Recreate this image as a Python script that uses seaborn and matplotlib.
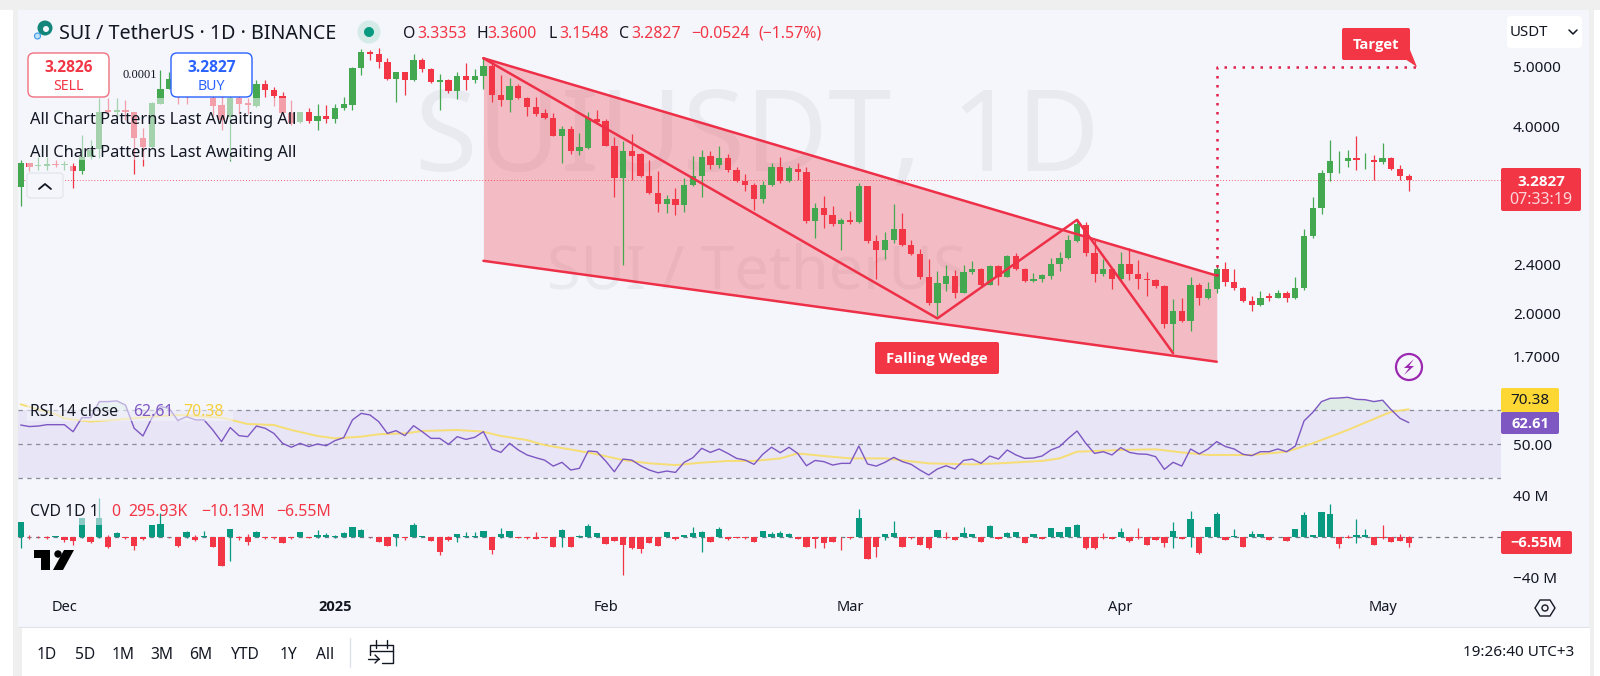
import matplotlib
matplotlib.use('Agg')
import matplotlib.pyplot as plt
import seaborn as sns
from matplotlib.patches import Rectangle, FancyBboxPatch, Polygon, Circle
from matplotlib.ticker import NullLocator

# daily candles
opens = [3.20,3.50,3.46,3.46,3.485,3.475,3.46,3.39,3.58,3.68,
         4.26,4.22,4.26,4.23,3.83,3.71,4.36,4.61,4.72,4.60,
         4.55,4.70,4.45,4.34,4.15,4.45,4.37,4.32,4.68,4.59,
         4.48,4.21,4.07,4.22,4.09,4.17,4.11,4.285,4.34,4.97,
         5.29,5.24,5.09,4.78,4.90,4.75,5.13,4.96,4.73,4.75,
         4.57,4.83,4.75,4.83,5.01,4.50,4.42,4.65,4.45,4.30,
         4.21,4.13,3.87,3.97,3.65,3.70,4.12,4.08,3.73,3.30,
         3.65,3.61,3.33,3.13,3.00,3.06,2.99,3.22,3.33,3.59,
         3.47,3.56,3.41,3.27,3.22,3.06,3.22,3.45,3.27,3.42,
         3.38,2.82,2.96,2.88,2.79,2.83,2.81,3.21,2.62,2.53,
         2.63,2.74,2.58,2.49,2.29,2.08,2.23,2.30,2.16,2.33,
         2.355,2.225,2.385,2.29,2.475,2.36,2.255,2.27,2.30,2.40,
         2.46,2.62,2.78,2.50,2.31,2.355,2.27,2.405,2.31,2.27,
         2.26,2.21,1.92,2.02,1.94,2.22,2.115,2.185,2.355,2.245,
         2.195,2.09,2.06,2.13,2.12,2.16,2.115,2.20,2.66,2.96,
         3.37,3.52,3.52,3.56,3.53,3.53,3.51,3.56,3.42,3.3353]
highs = [3.54,3.50,3.58,3.58,3.53,3.52,3.50,3.88,3.81,4.45,
         4.45,4.45,4.42,4.23,3.98,4.39,4.94,4.90,4.85,4.80,
         4.80,4.80,4.60,4.50,4.58,4.55,4.45,4.76,4.76,4.64,
         4.55,4.42,4.23,4.29,4.36,4.34,4.36,4.47,5.00,5.34,
         5.32,5.35,5.16,4.91,4.91,5.25,5.16,4.97,4.87,4.77,
         4.90,5.06,4.95,5.16,5.06,4.85,4.79,4.69,4.47,4.47,
         4.27,4.21,4.01,4.01,3.91,4.22,4.25,4.11,3.85,3.80,
         3.89,3.63,3.53,3.39,3.10,3.19,3.31,3.59,3.67,3.66,
         3.72,3.61,3.45,3.36,3.25,3.27,3.49,3.57,3.46,3.49,
         3.45,3.01,3.09,2.98,2.85,2.92,3.25,3.21,2.67,2.70,
         3.00,2.90,2.63,2.535,2.45,2.34,2.39,2.35,2.39,2.43,
         2.37,2.39,2.39,2.48,2.50,2.365,2.32,2.31,2.455,2.51,
         2.67,2.83,2.81,2.64,2.45,2.37,2.515,2.55,2.44,2.33,
         2.27,2.22,2.105,2.115,2.29,2.24,2.25,2.395,2.42,2.355,
         2.205,2.135,2.17,2.16,2.18,2.17,2.29,2.74,3.08,3.41,
         3.81,3.65,3.67,3.86,3.63,3.60,3.77,3.575,3.47,3.36]
lows = [2.98,3.39,3.40,3.40,3.44,3.41,3.19,3.35,3.55,3.56,
        4.20,4.11,4.10,3.36,3.46,3.69,4.36,4.60,4.35,4.36,
        4.50,4.50,4.17,3.955,3.52,4.20,4.20,4.31,4.47,4.32,
        4.17,4.02,4.05,4.05,3.955,4.05,4.05,4.26,4.26,4.85,
        5.13,4.97,4.76,4.38,4.50,4.74,4.91,4.70,4.26,4.53,
        4.44,4.58,4.70,4.61,4.38,4.32,4.23,4.44,4.17,4.17,
        4.11,3.87,3.50,3.62,3.60,3.68,4.05,3.72,3.08,2.39,
        3.285,3.32,3.12,2.91,2.90,2.88,2.91,3.21,3.08,3.42,
        3.43,3.38,3.26,3.15,2.93,3.01,3.21,3.24,3.26,3.285,
        2.80,2.65,2.75,2.77,2.53,2.79,2.80,2.60,2.27,2.45,
        2.60,2.57,2.48,2.27,2.06,1.98,2.175,2.12,2.155,2.31,
        2.215,2.22,2.225,2.285,2.35,2.25,2.245,2.25,2.27,2.34,
        2.45,2.61,2.47,2.25,2.295,2.19,2.255,2.26,2.19,2.13,
        2.20,1.89,1.74,1.935,1.87,2.06,2.105,2.16,2.215,2.18,
        2.085,2.02,2.055,2.09,2.115,2.085,2.11,2.18,2.65,2.89,
        3.27,3.37,3.44,3.40,3.42,3.285,3.48,3.41,3.285,3.1548]
closes = [3.50,3.44,3.47,3.48,3.475,3.485,3.39,3.58,3.67,4.23,
          4.23,4.26,4.23,3.83,3.71,4.37,4.61,4.77,4.60,4.55,
          4.70,4.60,4.32,4.10,4.45,4.36,4.33,4.68,4.585,4.48,
          4.21,4.05,4.22,4.09,4.17,4.11,4.285,4.35,4.98,5.28,
          5.25,5.09,4.78,4.90,4.75,5.13,4.96,4.73,4.75,4.57,
          4.83,4.75,4.83,5.01,4.50,4.42,4.65,4.45,4.30,4.19,
          4.13,3.87,3.97,3.65,3.71,4.13,4.07,3.73,3.30,3.65,
          3.59,3.33,3.13,3.00,3.06,2.99,3.22,3.33,3.58,3.47,
          3.56,3.41,3.27,3.22,3.06,3.22,3.45,3.27,3.43,3.38,
          2.82,2.96,2.88,2.79,2.83,2.81,3.21,2.62,2.53,2.63,
          2.74,2.58,2.49,2.29,2.08,2.235,2.30,2.16,2.33,2.355,
          2.225,2.385,2.29,2.475,2.355,2.255,2.27,2.305,2.40,2.46,
          2.625,2.79,2.50,2.31,2.355,2.27,2.405,2.31,2.27,2.265,
          2.21,1.92,2.02,1.94,2.22,2.115,2.185,2.355,2.245,2.20,
          2.09,2.06,2.12,2.12,2.16,2.115,2.20,2.66,2.96,3.37,
          3.52,3.525,3.56,3.53,3.535,3.51,3.56,3.42,3.33,3.2827]

# RSI line, one value per bar
rsi = [61.2,60.3,60.6,61.4,61.4,61.4,57.3,65.5,65.5,74.9,
       74.9,75.3,72.9,59.3,54.8,65.1,72.0,71.0,63.8,66.1,
       64.2,64.2,58.3,51.5,59.7,55.0,54.4,60.6,59.3,56.3,
       50.5,48.2,50.5,48.6,50.1,49.1,52.1,53.8,64.2,68.0,
       67.1,63.2,56.3,57.9,55.0,60.8,57.3,53.4,53.4,49.9,
       54.4,52.8,54.0,57.3,47.2,45.2,50.5,46.6,43.7,42.1,
       40.7,37.2,39.4,34.9,35.9,46.0,45.6,40.2,33.9,41.3,
       40.7,37.4,34.9,33.3,34.3,33.5,39.4,42.1,47.6,45.2,
       47.2,44.6,41.7,40.7,38.2,44.1,48.2,45.0,48.2,44.6,
       37.4,40.5,39.8,37.8,38.8,38.8,48.9,38.4,37.2,39.4,
       42.3,39.8,38.2,34.9,32.0,35.5,37.4,35.5,40.5,41.3,
       38.8,43.1,41.3,46.6,43.7,41.7,41.9,43.1,46.6,48.6,
       53.4,57.7,50.5,44.6,45.6,43.7,48.0,45.2,44.3,44.1,
       42.7,35.3,39.4,37.2,47.2,44.3,47.2,51.5,48.6,47.2,
       44.1,43.3,45.6,45.6,47.2,45.6,48.9,63.6,68.6,74.9,
       76.8,77.0,77.4,76.2,76.0,74.9,75.7,70.0,65.1,62.61]
# RSI moving average, read at the bars where it bends
ma_bars = [0,4,5,8,12,15,18,21,23,26,29,31,34,36,39,41,44,46,50,53,55,58,60,64,66,69,72,
           75,78,81,84,87,89,92,95,99,104,109,112,117,119,121,126,130,133,136,141,145,148,152,157,159]
ma_vals = [73.3,67.5,65.1,63.2,64.7,66.1,67.1,66.1,65.5,61.8,61.2,58.3,54.8,53.4,54.4,55.8,56.3,57.7,
           58.3,57.3,54.8,52.4,49.5,46.0,44.1,40.7,38.8,37.8,39.2,40.2,40.2,41.7,44.6,43.1,41.7,41.7,
           38.8,38.2,38.8,40.2,41.7,45.6,46.6,47.0,45.2,43.7,43.7,45.6,50.5,58.3,69.0,70.38]

# cumulative volume delta in millions, each bar starts at 0
cvd_close = [14.1,-0.6,-0.3,-1.6,0.6,-2.9,-3.9,18,-4.9,18,
             -10.5,3.3,-1.6,-9.2,-2.6,11.4,12.4,-0.6,-8.8,4.9,
             -3.3,1,-9.8,-28.8,7.5,-1.6,-4.9,4.9,-1.6,-1.6,
             -5.9,-1.6,4.3,-1,2,1.3,1,3.9,9.2,6.5,
             -0.6,-4.9,-8.8,2.9,-1.6,11.4,0.6,-3.9,-14.7,-2.9,
             2.6,0.6,1,5.6,-12.9,2.3,5.6,-1,-1.6,-2.3,
             -1,-9.8,6.5,-9.8,1,10.5,3.9,-6.9,-3.9,-8.2,
             -11.4,-12.4,-5.9,-9.2,4.9,-2.6,1.6,3.3,4.3,-4.9,
             7.5,-2.6,-1,-1.6,-4.9,5.6,2.9,3.3,2.9,-2,
             -9.8,-2.6,-5.9,-4.9,-0.6,-1.6,18,-22.2,-10.5,2.6,
             3.9,-9.8,-1.6,-8.2,-11.4,6.5,-1,-3.3,3.9,2.3,
             -4.9,10.8,-2,3.9,4.9,-5.9,2.9,-2,8.8,4.9,
             9.2,11.4,-11.4,-11.4,-1.6,-2,4.9,-4.3,-1.6,-7.8,
             -3.3,-5.9,5.6,-2,17,-15.7,9.2,21.9,-3.3,0.6,
             -9.8,2.9,2.9,-3.3,-0.3,-3.9,7.5,21.3,1.3,23.9,
             22.2,-7.2,-1,2,1.3,-8.2,-1.6,-4.9,-3.9,-6.55]
cvd_high = [14.1,1.6,0.5,1,1,0,0,18,0,37.6,
            1.6,4.9,0,0,0,11.4,22.9,0,0,5.9,
            1.6,5.6,0,0,7.5,1,2.3,5.6,0,0,
            0,0,4.3,0,6.5,3.9,1.5,4.5,9.5,7.5,
            0,0,0,3,0,13.7,1,0,0,1,
            3,4.9,4.9,6,0,8.2,6,0,0,4.9,
            0,0,7.5,0,1.5,12.4,4,0,0,0,
            0,0,0,0,5,0,2,9.8,6,0,
            9.8,0,0,0,0,6,5,6,4,0,
            0,0,0,0,0,0,27,0,0,3,
            15.4,0,0,0,0,7,4.9,0,9.8,3,
            0,11,0,4.5,5,0,3,0,9,5,
            9.5,12.4,0,0,3.3,0,8.8,0,8.8,0,
            0,0,14.7,0,25,0,9.5,24.5,0,7.2,
            0,5.6,3,0,0,0,8,24.5,1.5,24,
            31.7,0,2,17.3,7.5,0,11.4,0,2.6,0.296]
cvd_low = [-10.8,-2.3,-1,-2.6,-0.5,-4.9,-8.2,-1,-6.5,-1,
           -11.4,0,-2.3,-13,-3.6,0,0,-1,-9.8,-1,
           -3.9,0,-9.8,-28.8,-23.9,-3.3,-8.2,0,-2,-2,
           -6,-2,0,-1,-1,-0.5,-1,0,0,0,
           -1,-5,-9,-8.8,-3,0,-0.5,-4,-18,-3.9,
           -4.9,-0.5,-0.5,0,-17,-1.6,0,-1,-2,-2.5,
           -1,-10,-9.8,-10,-0.5,0,0,-7,-4,-37.6,
           -12,-16.4,-6,-9.5,0,-3,0,0,-14.7,-5,
           0,-3,-1.5,-2,-5,0,0,0,0,-2.5,
           -10,-10.8,-10.8,-5,-13,-2,0,-22.2,-19.6,-3.3,
           0,-10,-2,-8.5,-12.4,0,-2.3,-3.5,0,0,
           -5,0,-2.5,0,0,-6.5,0,-2,0,0,
           0,0,-12,-12,-2,-2.5,0,-5,-2,-8,
           -3.5,-10.5,-11.4,-2.5,-9.8,-17.3,0,0,-3.5,0,
           -10,0,0,-3.5,-0.5,-4,0,0,0,0,
           0,-11.4,-1.5,-5.9,0,-8.5,-2,-5,-4,-10.13]

# drawn pattern: bar index and price of the corners
wedge_bars = [53, 137]
wedge_top = [5.16, 2.30]
wedge_bottom = [2.43, 1.67]
zigzag_bars = [53, 105, 121, 132]
zigzag_prices = [5.16, 1.962, 2.83, 1.724]
target_bars = [137, 137, 160]
target_prices = [2.30, 5.0, 5.0]

price_ticks = [5.0, 4.0, 2.4, 2.0, 1.7]
month_bars = [5, 36, 67, 95, 126, 156]
month_labels = ['Dec', '2025', 'Feb', 'Mar', 'Apr', 'May']
range_buttons = ['1D', '5D', '1M', '3M', '6M', 'YTD', '1Y', 'All']

GREEN = '#43a84f'
RED = '#f23645'
TEAL = '#089981'
PANEL = '#f4f6fc'
INK = '#131722'
BOLD = ['Open Sans', 'DejaVu Sans']
W, H = 1600, 676

sns.set_theme(style='white')
plt.rcParams['font.family'] = ['Noto Sans', 'DejaVu Sans']

fig = plt.figure(figsize=(16, 6.76), dpi=100, facecolor='#efefef')


def pane(top, bottom, z):
    a = fig.add_axes([18 / W, 1 - bottom / H, 1483 / W, (bottom - top) / H], zorder=z)
    a.patch.set_alpha(0)
    a.set_xlim(-0.31, 169.56)
    a.yaxis.tick_right()
    a.tick_params(axis='y', length=0, pad=8.6, labelsize=11, labelcolor=INK)
    a.tick_params(axis='x', length=0, labelbottom=False)
    sns.despine(ax=a, left=True, bottom=True, right=True, top=True)
    return a


# background layer in pixels
bg = fig.add_axes([0, 0, 1, 1], zorder=0)
bg.set_xlim(0, W)
bg.set_ylim(H, 0)
bg.axis('off')
bg.add_patch(Rectangle((0, 10), 13, H, color='white', lw=0))
bg.add_patch(Rectangle((1594, 10), 6, H, color='white', lw=0))
bg.add_patch(Rectangle((18, 10), 1571, 617, color=PANEL, lw=0))
bg.text(757, 142, 'SUIUSDT, 1D', fontsize=82, color='#e8eaf0', ha='center', va='center')
bg.text(757, 273, 'SUI / TetherUS', fontsize=44, color='#e8eaf0', ha='center', va='center')

# price pane
ax = pane(10, 386.7, 1)
ax.set_yscale('log')
ax.set_ylim(1.522, 6.173)
ax.yaxis.set_minor_locator(NullLocator())
ax.set_yticks(price_ticks)
ax.set_yticklabels(['%.4f' % p for p in price_ticks])
ax.fill_between(wedge_bars, wedge_bottom, wedge_top, color=RED, alpha=0.3, lw=0, zorder=1)
bars = list(range(len(closes)))
colors = [GREEN if c >= o else RED for o, c in zip(opens, closes)]
ax.vlines(bars, lows, highs, colors=colors, lw=0.9, zorder=2)
ax.bar(bars, [abs(c - o) for o, c in zip(opens, closes)], bottom=[min(o, c) for o, c in zip(opens, closes)],
       width=0.72, color=colors, lw=0, zorder=2)
ax.axhline(closes[-1], color=RED, lw=0.7, ls=(0, (1, 2)), alpha=0.8, zorder=1.5)
for tops in (wedge_top, wedge_bottom):
    sns.lineplot(x=wedge_bars, y=tops, ax=ax, color='#ee2f48', lw=1.8, zorder=3)
sns.lineplot(x=zigzag_bars, y=zigzag_prices, ax=ax, color='#ee2f48', lw=1.8, zorder=3, sort=False)
ax.plot(target_bars, target_prices, color='#e0204a', lw=1.8, ls=(0, (1, 2.6)), zorder=3)
ax.set_xlabel('')
ax.set_ylabel('')

# RSI pane
ax_rsi = pane(386.7, 487.3, 1)
ax_rsi.set_ylim(24.8, 83.6)
ax_rsi.set_yticks([50])
ax_rsi.set_yticklabels(['50.00'])
ax_rsi.axhspan(30, 70, color='#7e57c2', alpha=0.1, lw=0)
for level in (70, 50, 30):
    ax_rsi.axhline(level, color='#8a8d99', lw=0.9, ls=(0, (3.5, 3.5)))
ax_rsi.fill_between(bars, 70, rsi, where=[v >= 70 for v in rsi], color='#4caf50', alpha=0.13, lw=0, interpolate=True)
sns.lineplot(x=ma_bars, y=ma_vals, ax=ax_rsi, color='#f6dd74', lw=1.4)
sns.lineplot(x=bars, y=rsi, ax=ax_rsi, color='#7e57c2', lw=1.0)
ax_rsi.set_xlabel('')
ax_rsi.set_ylabel('')

# CVD pane, also carries the time axis
ax_cvd = pane(487.3, 627, 1)
ax_cvd.set_ylim(-88.4, 48.4)
ax_cvd.set_yticks([40, -40])
ax_cvd.set_yticklabels(['40 M', '\u221240 M'])
ax_cvd.axhline(0, color='#787b86', lw=0.9, ls=(0, (3.5, 3.5)))
cvd_colors = [TEAL if c >= 0 else RED for c in cvd_close]
ax_cvd.vlines(bars, cvd_low, cvd_high, colors=cvd_colors, lw=0.9, zorder=2)
ax_cvd.bar(bars, cvd_close, width=0.72, color=cvd_colors, lw=0, zorder=2)
ax_cvd.set_xticks(month_bars)
ax_cvd.set_xticklabels(month_labels)
ax_cvd.tick_params(axis='x', labelbottom=True, pad=-19.5, labelsize=10.5, labelcolor=INK)
year_tick = ax_cvd.get_xticklabels()[1]
year_tick.set_family(BOLD)
year_tick.set_fontweight('bold')

# interface layer in pixels
ui = fig.add_axes([0, 0, 1, 1], zorder=5)
ui.patch.set_alpha(0)
ui.set_xlim(0, W)
ui.set_ylim(H, 0)
ui.axis('off')

# translucent legend backgrounds over the candles
for x0, y0, w, h in [(27, 98, 276, 62), (27, 160, 46, 13), (27, 398, 206, 23), (27, 498, 110, 27)]:
    ui.add_patch(Rectangle((x0, y0), w, h, color=PANEL, alpha=0.55, lw=0))


def label(x, y, s, color=INK, size=11, ha='left', weight='normal', **kw):
    if weight == 'bold':
        kw['family'] = BOLD
    ui.text(x, y + 1, s, color=color, fontsize=size, ha=ha, va='center', fontweight=weight, **kw)


def box(x0, y0, x1, y1, face, edge='none', r=3, lw=1.0):
    ui.add_patch(FancyBboxPatch((x0 + r, y0 + r), x1 - x0 - 2 * r, y1 - y0 - 2 * r,
                                boxstyle='round,pad=%d,rounding_size=%d' % (r, r),
                                fc=face, ec=edge, lw=lw))


# header
ui.add_patch(Circle((45, 28), 7.5, color='#14857a', lw=0))
ui.add_patch(Circle((46, 29), 3, color=PANEL, lw=0))
ui.add_patch(Circle((37.5, 36), 3, fc='#bfe0f7', ec='#3d9be9', lw=0.8))
label(59, 33, 'SUI / TetherUS \u00b7 1D \u00b7 BINANCE', size=14.2)
ui.add_patch(Circle((369, 32), 11.5, color='#d5ebe8', lw=0))
ui.add_patch(Circle((369, 32), 5, color='#089981', lw=0))
for x, s, c in [(403, 'O', INK), (417, '3.3353', RED), (476, 'H', INK), (487, '3.3600', RED),
                (549, 'L', INK), (559, '3.1548', RED), (619, 'C', INK), (631, '3.2827', RED),
                (691, '\u22120.0524', RED), (758, '(\u22121.57%)', RED)]:
    label(x, 33, s, color=c, size=11.4)

# sell and buy boxes
box(28, 53, 109, 97, 'white', '#f2707f', r=6)
label(68.5, 67, '3.2826', color=RED, size=11.2, ha='center', weight='bold')
label(68.5, 85, 'SELL', color=RED, size=10.2, ha='center')
box(171, 53, 252, 97, 'white', '#2962ff', r=6)
label(211.5, 67, '3.2827', color='#2962ff', size=11.2, ha='center', weight='bold')
label(211.5, 85, 'BUY', color='#2962ff', size=10.2, ha='center')
ui.text(140, 74.5, '0.0001', fontsize=9, color=INK, ha='center', va='center', family='Liberation Serif')
label(30, 119, 'All Chart Patterns Last Awaiting All', size=11.9)
label(30, 152, 'All Chart Patterns Last Awaiting All', size=11.9)
box(27, 173, 63, 198, PANEL, '#e0e3eb', r=3, lw=0.8)
ui.plot([39, 45, 51], [189, 184, 189], color=INK, lw=1.3)

# drawing labels
box(875, 342, 999, 374, RED, r=2)
label(937, 358, 'Falling Wedge', color='white', size=10.6, ha='center', weight='bold')
box(1342, 28, 1410, 60, RED, r=2)
ui.add_patch(Polygon([(1405, 59), (1417, 67), (1410, 50)], color=RED, lw=0))
label(1376, 44, 'Target', color='white', size=10.6, ha='center', weight='bold')

# price scale widgets
box(1507, 16, 1582, 48, 'white', r=4)
label(1510, 32, 'USDT', size=10.8)
ui.plot([1569, 1573, 1577], [30, 34, 30], color=INK, lw=1.1)
box(1501, 168, 1581, 211, RED, r=2)
label(1541, 180.5, '3.2827', color='white', size=11, ha='center', weight='bold')
label(1541, 198.5, '07:33:19', color='#fbd5da', size=11.5, ha='center')

ui.add_patch(Circle((1409, 367), 13, fc='none', ec='#9c27b0', lw=1.6))
ui.add_patch(Polygon([(1414, 359), (1404, 368), (1409, 368), (1404, 375), (1414, 366), (1409, 366)],
                     color='#9c27b0', lw=0))

# RSI and CVD legends and last value tags
label(30, 411, 'RSI 14 close', size=11.4)
label(133, 411, '62.61', color='#7e57c2', size=11.4)
label(183, 411, '70.38', color='#f5cf3c', size=11.4)
box(1501, 388, 1559, 412, '#fdd835', r=2)
label(1530, 399.5, '70.38', size=11, ha='center')
box(1501, 412, 1559, 434, '#7e57c2', r=2)
label(1530, 422.5, '62.61', color='white', size=10.6, ha='center', weight='bold')
label(30, 511, 'CVD 1D 1', size=11.4)
label(111, 511, '0', color=RED, size=11.4)
label(128, 511, '295.93K', color=RED, size=11.4)
label(201, 511, '\u221210.13M', color=RED, size=11.4)
label(276, 511, '\u22126.55M', color=RED, size=11.4)
box(1501, 531, 1572, 554, RED, r=2)
label(1536, 542, '\u22126.55M', color='white', size=10.6, ha='center', weight='bold')

# TradingView logo
ui.add_patch(Polygon([(34, 550), (50, 550), (50, 570), (41, 570), (41, 558), (34, 558)], color='black', lw=0))
ui.add_patch(Circle((58, 554), 3.7, color='black', lw=0))
ui.add_patch(Polygon([(64, 550), (74, 550), (63, 570), (53, 570)], color='black', lw=0))

# hex settings button
ui.add_patch(Polygon([(1535, 608), (1540, 600), (1550, 600), (1555, 608), (1550, 616), (1540, 616)],
                     fc='none', ec=INK, lw=1.0))
ui.add_patch(Circle((1545, 608), 3, fc='none', ec=INK, lw=1.0))

# bottom toolbar
ui.add_patch(Rectangle((22, 627), 1568, 49, color='white', lw=0))
ui.plot([18, 1589], [626.5, 626.5], color='#e0e3eb', lw=0.8)
for x, s in zip([47, 85, 123, 162, 201, 245, 288, 325], range_buttons):
    label(x, 654, s, size=11.2, ha='center')
ui.plot([350, 350], [638, 667], color='#e0e3eb', lw=1)
ui.plot([370, 370, 393, 393, 382], [655, 645, 645, 663, 663], color=INK, lw=1)
ui.plot([376, 376], [640, 648], color=INK, lw=1)
ui.plot([387, 387], [640, 648], color=INK, lw=1)
ui.plot([370, 393], [651, 651], color=INK, lw=1)
ui.plot([368, 379], [659, 659], color=INK, lw=1)
ui.plot([375, 379, 375], [655, 659, 663], color=INK, lw=1)
label(1574, 652, '19:26:40 UTC+3', size=11, ha='right')

fig.savefig('out.png', dpi=100, facecolor=fig.get_facecolor())
